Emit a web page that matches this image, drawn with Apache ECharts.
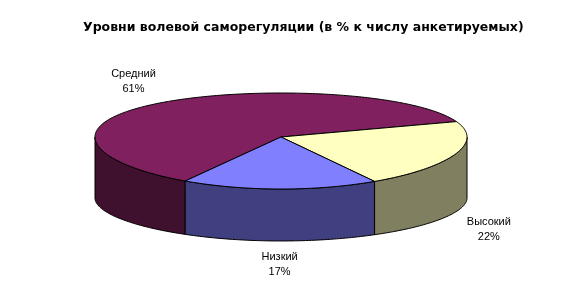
<!DOCTYPE html>
<html><head><meta charset="utf-8">
<script src="https://cdn.jsdelivr.net/npm/echarts@6/dist/echarts.min.js"></script>
<style>html,body{margin:0;padding:0;background:#fff}#c{width:563px;height:295px}</style>
</head><body><div id="c"></div>
<script>
const categories = ['Средний', 'Высокий', 'Низкий'];
const values = [61, 22, 17];
const titleText = 'Уровни волевой саморегуляции (в % к числу анкетируемых)';
const topColors = ['#80205F', '#FFFFC0', '#8080FF'];
const sideColors = ['#40102F', '#808060', '#404080'];

// geometry of the pseudo-3D pie (styling)
const G = { cx: 281, rx: 186, topCy: 137, topA: 47.67, botCy: 198, botA: 39.4, p: 0.0833, start: 121 };
const total = values.reduce((a, b) => a + b, 0);
const LABEL_FONT = '11px Arial, "Liberation Sans", sans-serif';
const measureCtx = document.createElement('canvas').getContext('2d');
measureCtx.font = LABEL_FONT;

function pt(deg, bottom) {
  const t = deg * Math.PI / 180, c = Math.cos(t), s = Math.sin(t);
  const cy = bottom ? G.botCy : G.topCy, A = bottom ? G.botA : G.topA;
  return [G.cx + G.rx * c, cy + A * s / (1 - G.p * s)];
}
function arc(a0, a1, bottom) {
  const pts = [];
  const n = Math.max(2, Math.ceil(Math.abs(a1 - a0)));
  for (let i = 0; i <= n; i++) pts.push(pt(a0 + (a1 - a0) * i / n, bottom));
  return pts;
}

function renderItem(params, api) {
  const idx = params.dataIndex;
  let cum = 0;
  for (let i = 0; i < idx; i++) cum += values[i];
  const v = api.value(1);
  const a0 = G.start + cum / total * 360;
  const a1 = a0 + v / total * 360;
  const children = [];
  for (let k = 0; k < 2; k++) {
    const lo = Math.max(a0, 360 * k), hi = Math.min(a1, 360 * k + 180);
    if (hi > lo) {
      const pts = arc(lo, hi, false).concat(arc(hi, lo, true));
      children.push({ type: 'polygon', z2: 1, shape: { points: pts },
        style: { fill: sideColors[idx], stroke: '#000', lineWidth: 1 } });
    }
  }
  const topPts = [[G.cx, G.topCy]].concat(arc(a0, a1, false));
  children.push({ type: 'polygon', z2: 10, shape: { points: topPts },
    style: { fill: topColors[idx], stroke: '#000', lineWidth: 1 } });
  // label
  const text = categories[idx] + '\n' + v + '%';
  const w = Math.max(...text.split('\n').map(l => measureCtx.measureText(l).width));
  const m = (a0 + a1) / 2, t = m * Math.PI / 180, c = Math.cos(t), s = Math.sin(t);
  const anchor = pt(m, s > 0);
  const gap = 12;
  const side = c < -0.3 ? -1 : (c > 0.3 ? 1 : 0);
  children.push({ type: 'text', z2: 20,
    x: anchor[0] + c * gap + side * w / 2, y: anchor[1] + s * 8,
    style: { text: text, fill: '#000', font: LABEL_FONT, lineHeight: 15,
      align: 'center', verticalAlign: s > 0 ? 'top' : 'bottom' } });
  return { type: 'group', children };
}

const chart = echarts.init(document.getElementById('c'), null, { renderer: 'canvas' });
chart.setOption({
  backgroundColor: '#fff',
  animation: false,
  title: { text: titleText, left: 78, top: 16,
    textStyle: { fontFamily: '"DejaVu Sans", sans-serif', fontWeight: 'bold', fontSize: 12.5, color: '#000' } },
  series: [{
    type: 'custom', coordinateSystem: 'none',
    renderItem: renderItem,
    data: categories.map((c, i) => [c, values[i]])
  }]
});
</script></body></html>
